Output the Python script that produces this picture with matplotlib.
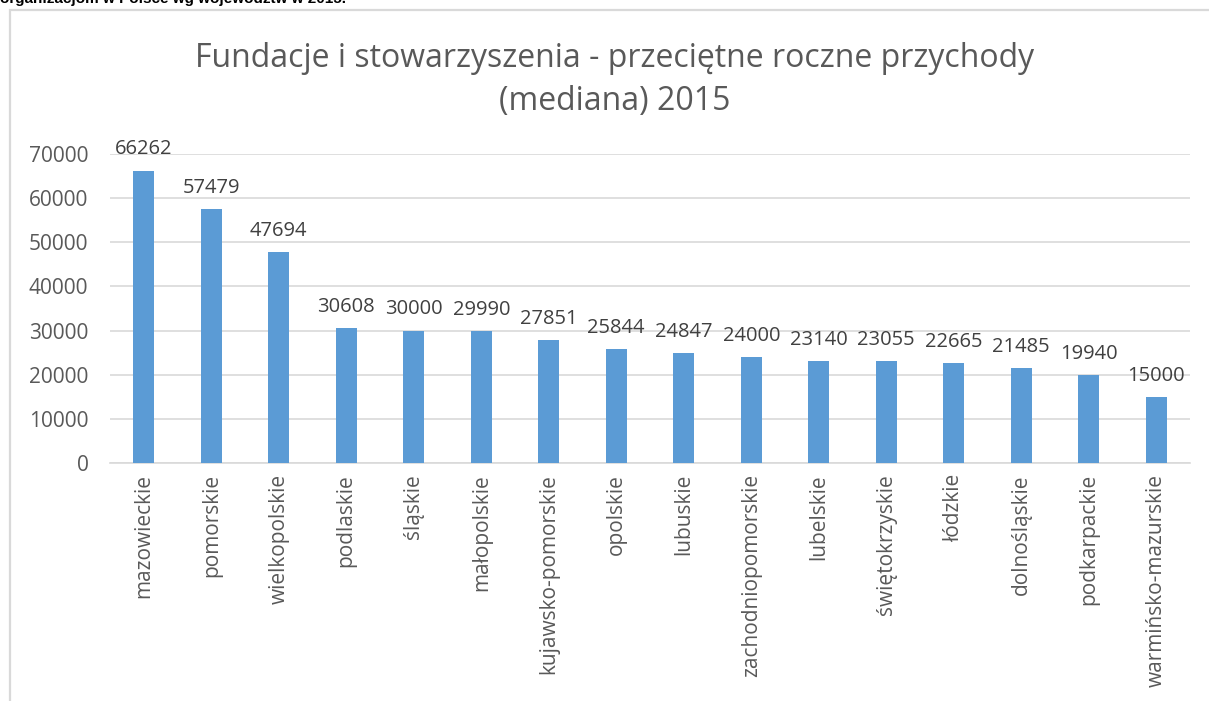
import matplotlib
matplotlib.use("Agg")
from matplotlib import pyplot as plt
from matplotlib.patches import Rectangle

regions = ['mazowieckie', 'pomorskie', 'wielkopolskie', 'podlaskie', 'śląskie',
           'małopolskie', 'kujawsko-pomorskie', 'opolskie', 'lubuskie',
           'zachodniopomorskie', 'lubelskie', 'świętokrzyskie', 'łódzkie',
           'dolnośląskie', 'podkarpackie', 'warmińsko-mazurskie']
median_income = [66262, 57479, 47694, 30608, 30000, 29990, 27851, 25844, 24847,
                 24000, 23140, 23055, 22665, 21485, 19940, 15000]
y_ticks = [0, 10000, 20000, 30000, 40000, 50000, 60000, 70000]

title = 'Fundacje i stowarzyszenia - przeciętne roczne przychody\n(mediana) 2015'
caption = 'organizacjom w Polsce wg województw w 2015.'

grey = '#595959'
plt.rcParams['font.family'] = ['Open Sans', 'DejaVu Sans']

fig = plt.figure(figsize=(12.09, 7.01), dpi=100)

# outer chart frame (cut by the screenshot edges on the right and bottom)
fig.patches.append(Rectangle((10 / 1209, -0.1), 1.2, 1 - 10 / 701 + 0.1,
                             transform=fig.transFigure, fill=False,
                             edgecolor='#d9d9d9', linewidth=1.6))
# caption line from the page above, cut by the screenshot edge
fig.text(0.0, 1 - 3.5 / 701, caption, family='Liberation Sans', weight='bold',
         fontsize=11, color='black', va='baseline', ha='left')

ax = fig.add_axes([110 / 1209, 1 - 463 / 701, 1080 / 1209, (463 - 154) / 701])
x = range(len(regions))
ax.bar(x, median_income, width=0.31, color='#5B9BD5', zorder=3)
for i, v in enumerate(median_income):
    ax.annotate(str(v), (i, v), xytext=(0, 8), textcoords='offset points',
                ha='center', va='bottom', fontsize=14.5, color='#404040')

ax.set_xlim(-0.5, len(regions) - 0.5)
ax.set_ylim(0, 70000)
ax.set_yticks(y_ticks)
ax.set_yticklabels([str(t) for t in y_ticks])
ax.set_xticks(list(x))
ax.set_xticklabels(regions, rotation=90)
ax.tick_params(axis='both', length=0, labelsize=15, colors=grey)
ax.tick_params(axis='y', pad=15.5)
ax.tick_params(axis='x', pad=8)
ax.grid(axis='y', color='#d9d9d9', linewidth=1.2, zorder=0)
for s in ['top', 'right', 'left']:
    ax.spines[s].set_visible(False)
ax.spines['bottom'].set_color('#d9d9d9')
ax.spines['bottom'].set_linewidth(1.2)

fig.text(615 / 1209, 1 - 80 / 701, title, ha='center', va='center',
         fontsize=23, color=grey, linespacing=1.4)

plt.savefig('out.png', dpi=100)
